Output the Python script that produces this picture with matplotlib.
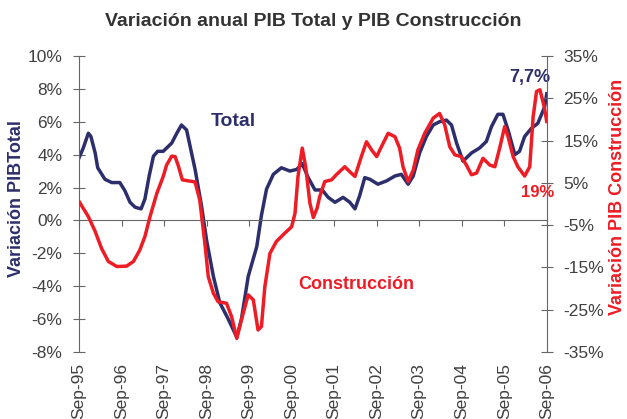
import matplotlib
matplotlib.use('Agg')
import matplotlib.pyplot as plt

plt.rcParams['font.family'] = ['Liberation Sans', 'DejaVu Sans']

# eje x: años transcurridos desde Sep-95
etiquetas = ['Sep-95', 'Sep-96', 'Sep-97', 'Sep-98', 'Sep-99', 'Sep-00',
             'Sep-01', 'Sep-02', 'Sep-03', 'Sep-04', 'Sep-05', 'Sep-06']

t_total = [0, 0.1, 0.22, 0.28, 0.38, 0.44, 0.61, 0.77, 0.96, 1.08, 1.2, 1.32,
           1.46, 1.55, 1.65, 1.75, 1.85, 1.98, 2.18, 2.3, 2.41, 2.53, 2.63,
           2.73, 2.88, 3.0, 3.16, 3.31, 3.51, 3.71, 3.82, 3.98, 4.18, 4.29,
           4.41, 4.57, 4.76, 4.96, 5.12, 5.25, 5.39, 5.55, 5.72, 5.86, 6.02,
           6.21, 6.37, 6.49, 6.6, 6.72, 6.84, 7.03, 7.23, 7.43, 7.58, 7.74,
           7.86, 8.01, 8.17, 8.33, 8.48, 8.64, 8.76, 8.88, 9.03, 9.23, 9.42,
           9.58, 9.7, 9.85, 9.97, 10.09, 10.25, 10.36, 10.48, 10.64, 10.79,
           10.95, 11.0]
pib_total = [3.8, 4.4, 5.3, 5.1, 4.1, 3.2, 2.5, 2.3, 2.3, 1.8, 1.1, 0.8,
             0.7, 1.3, 2.7, 3.9, 4.2, 4.2, 4.7, 5.3, 5.8, 5.5, 4.3,
             3.1, 0.9, -1.2, -3.4, -5.0, -6.0, -7.1, -6.0, -3.4, -1.6, 0.3,
             1.9, 2.8, 3.2, 3.0, 3.1, 3.45, 2.6, 1.85, 1.85, 1.4, 1.1,
             1.4, 1.1, 0.7, 1.5, 2.6, 2.5, 2.2, 2.4, 2.7, 2.8, 2.2,
             2.7, 4.1, 5.1, 5.8, 6.0, 6.1, 5.8, 4.7, 3.6, 4.1, 4.4,
             4.8, 5.7, 6.45, 6.45, 5.5, 4.0, 4.2, 5.1, 5.6, 5.9,
             6.9, 7.7]

t_constr = [0, 0.22, 0.38, 0.53, 0.69, 0.89, 1.12, 1.28, 1.43, 1.55, 1.67,
            1.83, 1.98, 2.06, 2.18, 2.26, 2.33, 2.43, 2.61, 2.73, 2.84, 2.96,
            3.04, 3.16, 3.27, 3.47, 3.59, 3.71, 3.82, 3.98, 4.1, 4.21, 4.29,
            4.37, 4.49, 4.64, 4.84, 5.0, 5.08, 5.15, 5.25, 5.33, 5.43, 5.51,
            5.6, 5.66, 5.78, 5.94, 6.05, 6.25, 6.37, 6.49, 6.64, 6.76, 6.88,
            7.0, 7.11, 7.27, 7.43, 7.54, 7.62, 7.74, 7.86, 7.97, 8.13, 8.33,
            8.48, 8.6, 8.72, 8.84, 8.99, 9.11, 9.23, 9.35, 9.5, 9.66, 9.78,
            9.9, 10.01, 10.09, 10.21, 10.32, 10.48, 10.6, 10.68, 10.76, 10.84,
            10.94, 11.0]
pib_constr = [0.6, -3.0, -6.5, -10.5, -13.6, -14.8, -14.7, -13.6, -10.9, -7.7, -3.0,
              2.5, 6.5, 9.2, 11.3, 11.2, 9.2, 5.7, 5.4, 5.2, 0.9, -9.3,
              -17.2, -21.1, -23.1, -23.5, -26.7, -31.8, -27.4, -21.5, -22.7, -29.8, -29.0,
              -19.6, -11.7, -8.9, -6.9, -5.4, -2.2, 6.5, 13.2, 8.8, 0.2, -3.2,
              -1.0, 1.7, 5.3, 5.7, 6.9, 8.8, 7.6, 6.5, 11.2, 14.7, 12.8,
              11.2, 13.5, 16.7, 15.9, 13.2, 8.8, 5.3, 8.0, 12.8, 16.7, 20.3,
              21.4, 18.7, 13.5, 11.6, 11.2, 9.2, 6.9, 7.3, 10.8, 9.2, 8.8,
              13.5, 18.3, 15.9, 11.2, 8.8, 6.6, 8.8, 20.6, 26.6, 27.0,
              23.0, 19.5]

ticks_izq = list(range(-8, 11, 2))
ticks_der = list(range(-35, 36, 10))

azul = '#2D2F6C'
rojo = '#EE1C25'
gris = '#666666'
texto = '#404040'

fig = plt.figure(figsize=(6.27, 4.19), dpi=100)
ax = fig.add_axes([0.126, 0.16, 0.746, 0.7065])
ax2 = ax.twinx()

ax.plot(t_total, pib_total, color=azul, lw=2.5, solid_joinstyle='round')
ax2.plot(t_constr, pib_constr, color=rojo, lw=2.5, solid_joinstyle='round')

ax.set_xlim(0, 11)
ax.set_ylim(-8, 10)
ax2.set_ylim(-35, 35)

ax.set_yticks(ticks_izq)
ax.set_yticklabels(['%d%%' % v for v in ticks_izq])
ax2.set_yticks(ticks_der)
ax2.set_yticklabels(['%d%%' % v for v in ticks_der])

for s in ['top', 'right']:
    ax.spines[s].set_visible(False)
for s in ['top', 'left', 'bottom']:
    ax2.spines[s].set_visible(False)
ax.spines['bottom'].set_position(('data', 0))
for s in ['left', 'bottom']:
    ax.spines[s].set_color(gris)
ax2.spines['right'].set_color(gris)

ax.tick_params(axis='y', direction='inout', length=8, color=gris,
               labelsize=12.5, labelcolor=texto, pad=8)
ax2.tick_params(axis='y', direction='inout', length=8, color=gris,
                labelsize=12.5, labelcolor=texto, pad=8)
ax.set_xticks(range(len(etiquetas)))
ax.tick_params(axis='x', direction='out', length=4, color=gris, labelbottom=False)

# etiquetas de fecha en la parte inferior
sec = ax.secondary_xaxis(0)
sec.set_xticks(range(len(etiquetas)))
sec.set_xticklabels(etiquetas, rotation=90, va='top')
sec.tick_params(length=0, labelsize=12.5, labelcolor=texto, pad=8)
sec.spines['bottom'].set_visible(False)

ax.set_ylabel('Variación PIBTotal', color=azul, fontsize=13, fontweight='bold',
              va='center')
ax.yaxis.set_label_coords(-0.134, 0.517)
ax2.set_ylabel('Variación PIB Construcción', color=rojo, fontsize=13,
               fontweight='bold', rotation=90, va='center')
ax2.yaxis.set_label_coords(1.152, 0.525)

ax.text(3.62, 6.0, 'Total', color=azul, fontsize=14, fontweight='bold',
        ha='center', va='center')
ax.text(6.51, -3.9, 'Construcción', color=rojo, fontsize=13, fontweight='bold',
        ha='center', va='center')
ax.text(10.6, 8.7, '7,7%', color=azul, fontsize=13, fontweight='bold',
        ha='center', va='center')
ax.text(10.79, 1.7, '19%', color=rojo, fontsize=12, fontweight='bold',
        ha='center', va='center')

fig.text(0.5, 1 - 21 / 419, 'Variación anual PIB Total y PIB Construcción',
         ha='center', va='center', fontsize=14, fontweight='bold', color='#333333')

fig.savefig('out.png', dpi=100)
